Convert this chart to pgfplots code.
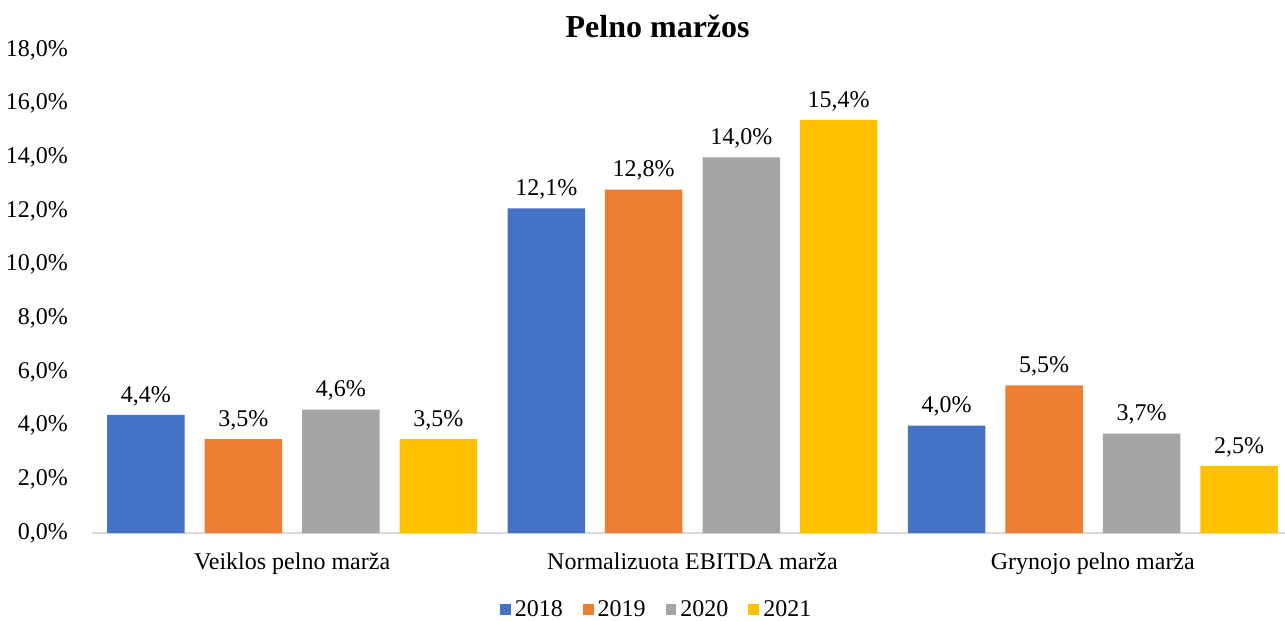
\documentclass[border=0pt]{standalone}
\usepackage{fontspec}
\setmainfont{Liberation Serif}
\usepackage{pgfplots}
\pgfplotsset{compat=1.18}
\definecolor{c18}{HTML}{4472C4}
\definecolor{c19}{HTML}{ED7D31}
\definecolor{c20}{HTML}{A5A5A5}
\definecolor{c21}{HTML}{FFC000}
\definecolor{axisgray}{HTML}{D9D9D9}

\begin{document}
\begin{tikzpicture}
\path[use as bounding box] (-46pt,-44pt) rectangle (596.5pt,266.5pt);
\begin{axis}[
    scale only axis,
    width=600.5pt, height=241.5pt,
    ybar,
    bar width=38.75pt,
    xmin=-0.5, xmax=2.5,
    ymin=0, ymax=18,
    ytick={0,2,...,18},
    xtick={0,1,2},
    xticklabels={Veiklos pelno marža, Normalizuota EBITDA marža, Grynojo pelno marža},
    major tick length=0pt,
    axis lines*=left,
    axis line style={draw=none},
    tick style={draw=none},
    /pgf/number format/assume math mode=true,
    yticklabel={\pgfmathprintnumber[fixed,fixed zerofill,precision=1,use comma]{\tick}\%},
    yticklabel style={xshift=-8.5pt, font=\fontsize{12}{14}\selectfont},
    xticklabel style={yshift=-6.5pt, font=\fontsize{12}{14}\selectfont},
    title={\fontsize{16}{18}\selectfont\bfseries Pelno maržos},
    every axis title shift=0pt,
    title style={at={(0.471,1)}, anchor=base, yshift=6pt},
    nodes near coords={\pgfmathprintnumber[fixed,fixed zerofill,precision=1,use comma]{\pgfplotspointmeta}\%},
    nodes near coords style={font=\fontsize{12}{14}\selectfont, yshift=1pt},
    legend style={at={(0.471,0)}, anchor=center, yshift=-38.5pt, draw=none,
        legend columns=-1, font=\fontsize{12}{14}\selectfont,
        /tikz/every even column/.append style={column sep=8pt}},
    legend image code/.code={\fill[#1] (0pt,-2.4pt) rectangle (5.4pt,3pt);},
    clip=false,
]
\draw[axisgray, line width=0.7pt] (rel axis cs:0,0) -- (rel axis cs:1,0);
\addplot[fill=c18, draw=none, bar shift=-73.1pt] coordinates {(0,4.4) (1,12.1) (2,4.0)};
\addplot[fill=c19, draw=none, bar shift=-24.4pt] coordinates {(0,3.5) (1,12.8) (2,5.5)};
\addplot[fill=c20, draw=none, bar shift=24.4pt] coordinates {(0,4.6) (1,14.0) (2,3.7)};
\addplot[fill=c21, draw=none, bar shift=73.1pt] coordinates {(0,3.5) (1,15.4) (2,2.5)};
\legend{2018,2019,2020,2021}
\end{axis}
\end{tikzpicture}
\end{document}
